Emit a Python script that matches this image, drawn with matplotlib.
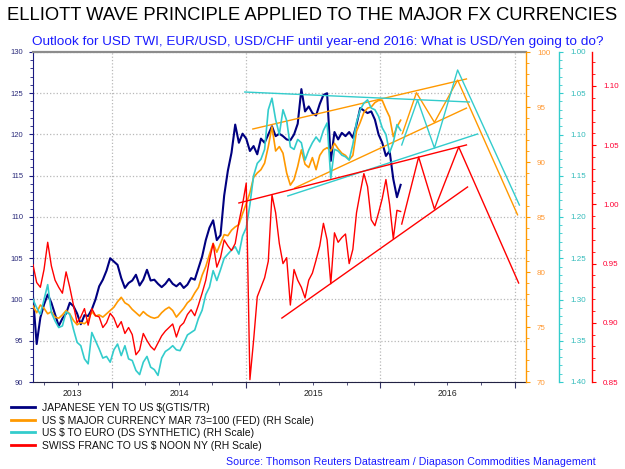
import matplotlib
matplotlib.use("Agg")
import matplotlib.pyplot as plt
import pandas as pd
from matplotlib.ticker import MultipleLocator, FormatStrFormatter
import matplotlib.dates as mdates

plt.rcParams['font.family'] = ['Liberation Sans', 'DejaVu Sans']

# sampling dates of the four series (every 10 days)
dates = pd.date_range('2013-05-31', periods=101, freq='10D')

# JPY per USD (left scale)
yen = [100.3, 94.6, 97.8, 99.4, 100.6, 99.6, 98.2, 96.8, 97.7, 98.3,
       99.6, 99.2, 98.3, 97.0, 98.1, 98.0, 98.8, 100.0, 101.6, 102.4,
       103.5, 105.0, 104.6, 104.2, 102.6, 101.4, 102.0, 102.3, 103.0, 101.7,
       102.4, 103.6, 102.3, 102.4, 101.9, 101.5, 101.9, 102.5, 101.9, 101.6,
       102.0, 101.4, 101.8, 102.6, 102.4, 103.8, 105.2, 107.2, 108.7, 109.6,
       107.2, 107.8, 112.6, 115.6, 117.8, 121.2, 119.0, 120.1, 119.5, 118.0,
       118.6, 117.6, 119.5, 119.0, 120.0, 121.0, 119.8, 120.1, 119.8, 119.4,
       119.3, 120.0, 121.3, 125.5, 122.8, 123.4, 122.6, 122.3, 123.7, 124.8,
       125.0, 116.8, 120.3, 119.4, 120.2, 119.8, 120.3, 119.6, 121.2, 123.2,
       122.9, 122.6, 122.8, 121.8, 120.0, 119.0, 117.4, 118.0, 114.6, 112.4,
       113.9]

# USD major currency index (orange, RH scale)
usd_twi = [76.9, 76.3, 77.0, 76.7, 76.2, 76.4, 75.9, 75.8, 76.1, 76.5,
           76.2, 75.6, 75.2, 75.4, 75.3, 75.6, 76.4, 76.0, 76.1, 75.9,
           76.2, 76.5, 76.8, 77.3, 77.7, 77.2, 77.0, 76.6, 76.3, 76.0,
           76.4, 76.1, 75.9, 75.8, 75.9, 76.3, 76.6, 76.8, 76.5, 75.9,
           76.3, 76.7, 77.2, 77.5, 78.1, 78.6, 79.7, 80.5, 81.6, 82.6,
           81.8, 82.6, 83.4, 83.3, 83.8, 84.1, 84.3, 85.3, 86.2, 87.2,
           88.6, 89.0, 89.3, 89.9, 91.4, 93.2, 91.0, 91.4, 90.8, 89.0,
           87.9, 88.4, 89.6, 91.1, 89.8, 89.5, 90.4, 89.3, 90.6, 91.1,
           91.3, 91.0, 91.7, 91.2, 90.8, 90.6, 90.2, 90.6, 92.8, 93.6,
           94.5, 94.9, 95.0, 95.4, 95.6, 95.6, 94.8, 94.1, 92.3, 93.2,
           93.8]

# USD to EUR (teal, inverted RH scale)
eur = [1.300, 1.310, 1.318, 1.300, 1.282, 1.316, 1.326, 1.334, 1.332, 1.315,
       1.318, 1.336, 1.352, 1.356, 1.372, 1.378, 1.340, 1.350, 1.360, 1.371,
       1.369, 1.376, 1.361, 1.354, 1.368, 1.356, 1.372, 1.374, 1.386, 1.391,
       1.376, 1.369, 1.382, 1.385, 1.392, 1.371, 1.363, 1.360, 1.356, 1.361,
       1.362, 1.353, 1.343, 1.340, 1.337, 1.323, 1.313, 1.294, 1.285, 1.265,
       1.277, 1.264, 1.250, 1.245, 1.240, 1.236, 1.245, 1.223, 1.213, 1.185,
       1.150, 1.135, 1.130, 1.118, 1.070, 1.056, 1.082, 1.100, 1.070, 1.083,
       1.115, 1.118, 1.106, 1.110, 1.131, 1.119, 1.110, 1.103, 1.109, 1.095,
       1.086, 1.153, 1.118, 1.120, 1.125, 1.127, 1.131, 1.112, 1.085, 1.070,
       1.062, 1.058, 1.068, 1.070, 1.078, 1.092, 1.100, 1.122, 1.110, 1.088,
       1.095]

# CHF per USD (red, RH scale)
chf = [0.949, 0.934, 0.930, 0.945, 0.968, 0.948, 0.936, 0.930, 0.925, 0.943,
       0.930, 0.915, 0.900, 0.905, 0.912, 0.898, 0.912, 0.906, 0.905, 0.896,
       0.900, 0.908, 0.904, 0.896, 0.901, 0.891, 0.896, 0.890, 0.873, 0.877,
       0.891, 0.885, 0.880, 0.877, 0.883, 0.889, 0.893, 0.896, 0.899, 0.888,
       0.897, 0.900, 0.907, 0.911, 0.906, 0.915, 0.925, 0.936, 0.953, 0.967,
       0.947, 0.955, 0.970, 0.965, 0.961, 0.967, 0.985, 1.000, 1.018, 0.852,
       0.885, 0.922, 0.930, 0.938, 0.952, 1.008, 0.993, 0.967, 0.950, 0.955,
       0.915, 0.945, 0.936, 0.930, 0.921, 0.936, 0.942, 0.953, 0.965, 0.984,
       0.970, 0.933, 0.976, 0.968, 0.972, 0.975, 0.950, 0.962, 0.993, 1.010,
       1.026, 1.015, 0.987, 0.982, 0.993, 1.005, 1.021, 1.000, 0.971, 0.995,
       0.994]

# channel lines and forecast zigzags (dates, values)
or_top_d, or_top_v = ['2015-01-19', '2016-08-22'], [93.0, 97.55]
or_bot_d, or_bot_v = ['2015-05-13', '2016-08-22'], [87.64, 94.9]
or_path_d = ['2016-03-01', '2016-04-08', '2016-05-27', '2016-07-29', '2017-01-08']
or_path_v = [92.6, 96.3, 93.6, 97.45, 85.2]

tl_top_d, tl_top_v = ['2014-12-28', '2016-08-30'], [1.0485, 1.0606]
tl_bot_d, tl_bot_v = ['2015-04-24', '2016-09-21'], [1.1745, 1.0994]
tl_path_d = ['2016-02-28', '2016-04-11', '2016-05-27', '2016-07-29', '2017-01-13']
tl_path_v = [1.1127, 1.0582, 1.1164, 1.0218, 1.1855]

rd_top_d, rd_top_v = ['2014-12-12', '2016-08-22'], [1.0012, 1.0502]
rd_bot_d, rd_bot_v = ['2015-04-08', '2016-08-25'], [0.904, 1.0147]
rd_path_d = ['2016-02-28', '2016-04-14', '2016-05-27', '2016-08-01', '2017-01-11']
rd_path_v = [0.9834, 1.040, 0.996, 1.0485, 0.9336]

year_labels = ['2013', '2014', '2015', '2016']
year_label_pos = ['2013-09-15', '2014-07-02', '2015-07-02', '2016-07-02']

NAVY = '#000080'
ORANGE = '#FF9900'
TEAL = '#33CCCC'
RED = '#FF0000'

fig = plt.figure(figsize=(6.25, 4.69), dpi=100)
ax = fig.add_axes([33/625, 87/469, 493/625, 330/469])

td = pd.to_datetime

ax.plot(dates, yen, color=NAVY, lw=1.5, label='JAPANESE YEN TO US $(GTIS/TR)')
ax.set_ylim(90, 130)
ax.set_xlim(td('2013-05-31'), td('2017-01-31'))

ax_o = ax.twinx()
ax_t = ax.twinx()
ax_r = ax.twinx()
ax_t.spines['right'].set_position(('axes', 1 + 33/493))
ax_r.spines['right'].set_position(('axes', 1 + 66/493))

lo, = ax_o.plot(dates, usd_twi, color=ORANGE, lw=1.2,
                label='US $ MAJOR CURRENCY MAR 73=100 (FED) (RH Scale)')
ax_o.plot(td(or_top_d), or_top_v, color=ORANGE, lw=1.0)
ax_o.plot(td(or_bot_d), or_bot_v, color=ORANGE, lw=1.0)
ax_o.plot(td(or_path_d), or_path_v, color=ORANGE, lw=1.0)
ax_o.set_ylim(70, 100)

lt, = ax_t.plot(dates, eur, color=TEAL, lw=1.2,
                label='US $ TO EURO (DS SYNTHETIC) (RH Scale)')
ax_t.plot(td(tl_top_d), tl_top_v, color=TEAL, lw=1.0)
ax_t.plot(td(tl_bot_d), tl_bot_v, color=TEAL, lw=1.0)
ax_t.plot(td(tl_path_d), tl_path_v, color=TEAL, lw=1.0)
ax_t.set_ylim(1.40, 1.00)

lr, = ax_r.plot(dates, chf, color=RED, lw=1.0,
                label='SWISS FRANC TO US $ NOON NY (RH Scale)')
ax_r.plot(td(rd_top_d), rd_top_v, color=RED, lw=1.0)
ax_r.plot(td(rd_bot_d), rd_bot_v, color=RED, lw=1.0)
ax_r.plot(td(rd_path_d), rd_path_v, color=RED, lw=1.0)
ax_r.set_ylim(0.85, 1.1287)

# left axis styling
ax.yaxis.set_major_locator(MultipleLocator(5))
ax.yaxis.set_minor_locator(MultipleLocator(1))
ax.tick_params(axis='y', which='major', length=3, width=0.8, colors='#1a1a80',
               labelsize=5.5, labelcolor='#2a2a7a', pad=4)
ax.tick_params(axis='y', which='minor', length=2, width=0.6, colors='#1a1a80')
ax.xaxis.set_major_locator(mdates.YearLocator())
ax.xaxis.set_minor_locator(mdates.MonthLocator(bymonth=[1, 4, 7, 10]))
ax.xaxis.set_major_formatter(plt.NullFormatter())
ax.tick_params(axis='x', which='major', length=4, width=0.8, colors='#333366')
ax.tick_params(axis='x', which='minor', length=2.5, width=0.6, colors='#333366')
ax.grid(True, which='major', color='#b8b8b8', linestyle=':', linewidth=0.9)
ax.set_axisbelow(True)
ax.spines['left'].set_color('#1a1a80')
ax.spines['bottom'].set_color('#222244')
ax.spines['top'].set_color('#8c8c8c')
ax.spines['top'].set_linewidth(1.6)
ax.spines['right'].set_visible(False)

for a, tx in zip(year_labels, year_label_pos):
    ax.text(td(tx), -0.034, a, transform=ax.get_xaxis_transform(),
            ha='center', va='center', fontsize=6.3, color='#222222')

# right axes styling
specs = [(ax_o, ORANGE, '#FF9933', 5, 1, '%d'),
         (ax_t, TEAL, '#33BBBB', 0.05, 0.01, '%.2f'),
         (ax_r, RED, '#FF0033', 0.05, 0.01, '%.2f')]
for a, sc, lc, maj, mnr, fmt in specs:
    for s in ['left', 'top', 'bottom']:
        a.spines[s].set_visible(False)
    a.spines['right'].set_color(sc)
    a.spines['right'].set_linewidth(1.0)
    a.yaxis.set_major_locator(MultipleLocator(maj))
    a.yaxis.set_minor_locator(MultipleLocator(mnr))
    a.yaxis.set_major_formatter(FormatStrFormatter(fmt))
    a.tick_params(axis='y', which='major', length=3, width=0.8, colors=sc,
                  labelsize=5.8, labelcolor=lc, pad=5)
    a.tick_params(axis='y', which='minor', length=2, width=0.6, colors=sc)

fig.text(0.5, 1 - 16/469, 'ELLIOTT WAVE PRINCIPLE APPLIED TO THE MAJOR FX CURRENCIES',
         ha='center', va='center', fontsize=13.2, color='#000000')
fig.text(318/625, 1 - 42/469,
         'Outlook for USD TWI, EUR/USD, USD/CHF until year-end 2016: What is USD/Yen going to do?',
         ha='center', va='center', fontsize=9.7, color='#1a1aff')

handles = [ax.lines[0], lo, lt, lr]
leg = fig.legend(handles=handles, loc='upper left', bbox_to_anchor=(11/625, 1 - 403/469),
                 frameon=False, fontsize=7.5, handlelength=2.3, handletextpad=0.65,
                 labelspacing=0.24, borderpad=0, borderaxespad=0)
for h in leg.legend_handles:
    h.set_linewidth(2.0)
for t in leg.get_texts():
    t.set_color('#111111')

fig.text(596/625, 1 - 462/469,
         'Source: Thomson Reuters Datastream / Diapason Commodities Management',
         ha='right', va='center', fontsize=7.7, color='#1a1aff')

fig.savefig('out.png', dpi=100)
